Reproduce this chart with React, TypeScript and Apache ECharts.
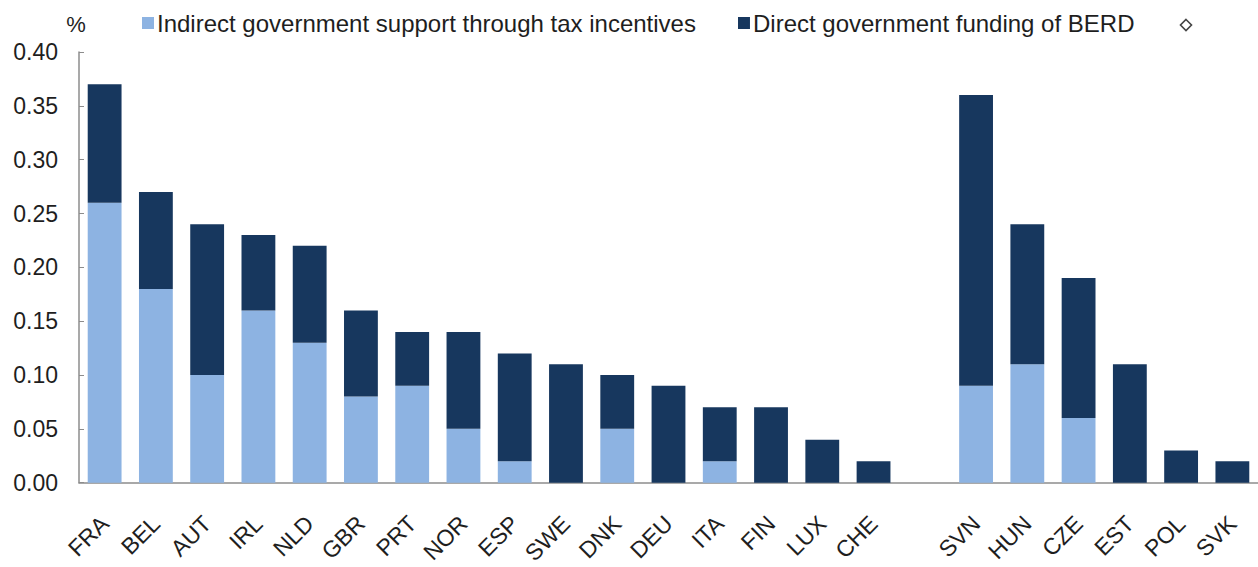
import React, { useEffect, useRef } from "react";
import * as echarts from "echarts";

const categories = ["FRA", "BEL", "AUT", "IRL", "NLD", "GBR", "PRT", "NOR", "ESP", "SWE", "DNK", "DEU", "ITA", "FIN", "LUX", "CHE", "", "SVN", "HUN", "CZE", "EST", "POL", "SVK"];
const indirectSupport = [0.26, 0.18, 0.10, 0.16, 0.13, 0.08, 0.09, 0.05, 0.02, 0, 0.05, 0, 0.02, 0, 0, 0, null, 0.09, 0.11, 0.06, 0, 0, 0];
const directFunding = [0.11, 0.09, 0.14, 0.07, 0.09, 0.08, 0.05, 0.09, 0.10, 0.11, 0.05, 0.09, 0.05, 0.07, 0.04, 0.02, null, 0.27, 0.13, 0.13, 0.11, 0.03, 0.02];
const seriesNames = ["Indirect government support through tax incentives", "Direct government funding of BERD"];
const yTicks = { min: 0, max: 0.4, interval: 0.05 };

const FONT = "'Liberation Sans', Arial, sans-serif";
const TEXT = "#1e1e1e";
const LIGHT = "#8DB3E2";
const DARK = "#17375E";

export default function App() {
  const ref = useRef<HTMLDivElement>(null);
  useEffect(() => {
    document.body.style.margin = "0";
    const chart = echarts.init(ref.current!, null, { renderer: "svg" });
    chart.setOption({
      animation: false,
      textStyle: { fontFamily: FONT },
      grid: { left: 79, right: -2, top: 52, bottom: 77, containLabel: false },
      legend: {
        left: 142,
        top: 11,
        padding: 0,
        itemGap: 42,
        itemWidth: 12,
        itemHeight: 12,
        icon: "rect",
        textStyle: { fontSize: 24, color: TEXT, fontFamily: FONT, padding: [0, 0, 0, -2] },
        data: seriesNames,
      },
      xAxis: {
        type: "category",
        data: categories,
        boundaryGap: true,
        axisLine: { lineStyle: { color: "#8c8c8c", width: 1.5 } },
        axisTick: { show: false },
        axisLabel: { rotate: 45, fontSize: 23, color: TEXT, margin: 37, interval: 0, fontFamily: FONT },
      },
      yAxis: {
        type: "value",
        min: yTicks.min,
        max: yTicks.max,
        interval: yTicks.interval,
        name: "%",
        nameLocation: "end",
        nameGap: 17,
        nameTextStyle: { fontSize: 22, color: TEXT, fontFamily: FONT, padding: [0, 6, 0, 0] },
        splitLine: { show: false },
        axisLine: { show: true, lineStyle: { color: "#8c8c8c", width: 1.5 } },
        axisTick: { show: true, inside: true, length: 5, lineStyle: { color: "#8c8c8c" } },
        axisLabel: {
          fontSize: 23,
          color: TEXT,
          margin: 21,
          fontFamily: FONT,
          formatter: (v: number) => v.toFixed(2),
        },
      },
      series: [
        {
          name: seriesNames[0],
          type: "bar",
          stack: "total",
          barWidth: "66%",
          itemStyle: { color: LIGHT },
          data: indirectSupport,
        },
        {
          name: seriesNames[1],
          type: "bar",
          stack: "total",
          barWidth: "66%",
          itemStyle: { color: DARK },
          data: directFunding,
        },
      ],
      graphic: [
        {
          type: "polygon",
          shape: { points: [[1186, 19.5], [1191.5, 25], [1186, 30.5], [1180.5, 25]] },
          style: { fill: "#ffffff", stroke: "#444444", lineWidth: 1.6 },
        },
      ],
    });
    return () => chart.dispose();
  }, []);
  return <div ref={ref} style={{ width: 1258, height: 567 }} />;
}
